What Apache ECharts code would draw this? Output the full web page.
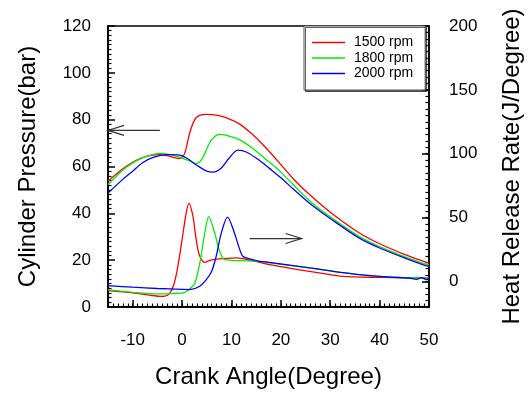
<!DOCTYPE html>
<html>
<head>
<meta charset="utf-8">
<script src="https://cdn.jsdelivr.net/npm/echarts@6/dist/echarts.min.js"></script>
<style>
html,body{margin:0;padding:0;background:#fff;}
#chart{width:532px;height:394px;}
</style>
</head>
<body>
<div id="chart"></div>
<script>
// ---- data (crank angle in degrees, value) ----
const seriesNames = ['1500 rpm', '1800 rpm', '2000 rpm'];
const seriesColors = ['#ff0000', '#00ee00', '#0000ff'];

// Cylinder pressure (bar)
const pressure1500 = [[-15,53.7],[-12,59],[-10,61.8],[-8,63.8],[-6,64.9],[-4.5,65.1],[-3,64.6],[-1.5,63.8],[-0.5,63.4],[0.5,65.5],[1.5,74],[2.5,79.8],[3.5,81.8],[5,82.3],[7,81.9],[9,80.8],[11.6,78.2],[14,74.2],[15.7,70.8],[17.7,66.3],[20,60.8],[22.5,54.8],[25.8,48],[30,40.5],[35.9,31.6],[40,27],[45,22.5],[49.3,19.2],[50,18.8]];
const pressure1800 = [[-15,52.3],[-12,58.5],[-10,61.5],[-8,63.8],[-6,65.1],[-4.5,65.6],[-3,65.3],[-1,64.3],[1,62.8],[3,61.3],[4,63],[5,67.5],[6,71.5],[7.6,73.7],[9,73.3],[11.6,71.5],[14,68.2],[15.7,65.3],[17.7,61.8],[20,57.6],[22.5,52.3],[25.8,45.4],[30,38.5],[35.9,30.1],[40,25.8],[45,21.5],[49.3,18.3],[50,18]];
const pressure2000 = [[-15,48.7],[-12,54.5],[-10,58],[-8,61.6],[-6,63.8],[-3,65.1],[-0.5,64.9],[1,63.5],[3,60.5],[5,58],[6.3,57.6],[8,59.5],[9.5,63.5],[11.3,67],[13,66.2],[15.7,62.6],[17.7,59.2],[20,55.2],[22.5,50.4],[25.8,44.3],[30,37.8],[35.9,29.4],[40,25.2],[45,21],[49.3,17.7],[50,17.4]];

// Heat release rate (J/Degree)
const heat1500 = [[-15,-7.2],[-10,-9],[-6,-11],[-4.2,-11.7],[-2.8,-10.4],[-1.8,-4],[-1.1,6.7],[-0.5,20],[0.1,35.4],[0.9,55],[1.4,61.1],[2.2,51.1],[2.7,37],[3.2,25],[3.8,18],[4.6,15],[5.5,16.3],[6.3,17.1],[11,18.4],[14,16.5],[17.7,13.2],[25.8,7.9],[32.5,4],[40,3.2],[45,3],[49.3,2.7],[50,2.7]];
const heat1800 = [[-15,-6.4],[-10,-8.5],[-5,-9.8],[0.2,-9],[1.5,-6],[2.6,-1.2],[3.6,14.5],[4.6,38],[5.4,50.7],[6.6,38],[7.6,23.7],[8.6,17.1],[11.6,16.3],[15.7,15.8],[17.7,14.5],[25.8,10.6],[35.9,5.3],[42,3.5],[45.9,2.7],[48,3.2],[49,2.2],[50,2.7]];
const heat2000 = [[-15,-3.3],[-10,-4.5],[-5,-5.5],[0,-6.2],[1.55,-6.4],[3.5,-4],[4.9,1.4],[6,8],[6.9,19.7],[7.95,38],[9.2,50.4],[10.6,38],[11.5,27],[12.3,19.7],[13.7,17.7],[15.7,15.8],[17.7,15],[25.8,10.6],[35.9,5.3],[42,3.4],[45.9,2.7],[47.5,1.6],[48.5,3],[49.5,1.5],[50,2.4]];

// tick values
const xTickValues = [-10, 0, 10, 20, 30, 40, 50];
const rightTickValues = [0, 50, 100, 150, 200];

// annotation arrows: [fromX, fromY, toX, toY, yAxisIndex] (tip at "to")
const arrowLeft = [-4.5, 75.4, -15, 75.4, 0];
const arrowRight = [13.7, 33.6, 24.2, 33.6, 1];

const chart = echarts.init(document.getElementById('chart'), null, {renderer: 'canvas'});
const font = 'Liberation Sans, Arial, sans-serif';

const pressureSets = [pressure1500, pressure1800, pressure2000];
const heatSets = [heat1500, heat1800, heat2000];
const series = [];
for (let i = 0; i < 3; i++) {
  const common = {
    type: 'line', name: seriesNames[i], symbol: 'none', showSymbol: false,
    smooth: 0.3, xAxisIndex: 0,
    lineStyle: {color: seriesColors[i], width: 1.3},
    itemStyle: {color: seriesColors[i]},
    emphasis: {disabled: true}, animation: false
  };
  series.push(Object.assign({}, common, {yAxisIndex: 0, data: pressureSets[i]}));
  series.push(Object.assign({}, common, {yAxisIndex: 1, data: heatSets[i]}));
}

const option = {
  animation: false,
  backgroundColor: '#fff',
  textStyle: {fontFamily: font},
  grid: {left: 108, right: 102, top: 26, bottom: 87, show: true, borderColor: '#000', borderWidth: 1.5, backgroundColor: 'transparent'},
  legend: {
    data: seriesNames, orient: 'vertical', left: 304, top: 26,
    padding: [9, 12, 9, 8], itemGap: 0.5, itemWidth: 33, itemHeight: 1.5, icon: 'rect',
    backgroundColor: '#fff', borderColor: '#555', borderWidth: 1,
    shadowColor: 'rgba(0,0,0,0.6)', shadowBlur: 0, shadowOffsetX: 1.5, shadowOffsetY: 1.5,
    textStyle: {fontFamily: font, fontSize: 14, color: '#000', lineHeight: 15, padding: [0, 0, 0, 4]},
    selectedMode: false
  },
  xAxis: [
    {
      type: 'value', min: -15, max: 50, position: 'bottom',
      name: 'Crank Angle(Degree)', nameLocation: 'middle', nameGap: 58,
      nameTextStyle: {fontFamily: font, fontSize: 24, color: '#000'},
      axisLine: {show: true, onZero: false, lineStyle: {color: '#000', width: 2}},
      axisTick: {show: true, inside: true, length: 7, customValues: xTickValues, lineStyle: {color: '#000', width: 1.5}},
      axisLabel: {show: true, customValues: xTickValues, margin: 25, fontFamily: font, fontSize: 17, color: '#000'},
      splitLine: {show: false}
    },
    {
      type: 'value', min: -15, max: 50, interval: 1, position: 'bottom',
      axisLine: {show: false, onZero: false},
      axisTick: {show: true, inside: true, length: 3.5, lineStyle: {color: '#000', width: 1.2}},
      axisLabel: {show: false}, splitLine: {show: false}
    }
  ],
  yAxis: [
    {
      type: 'value', min: 0, max: 120, interval: 20, position: 'left',
      name: 'Cylinder Pressure(bar)', nameLocation: 'middle', nameGap: 68, nameRotate: 90,
      nameTextStyle: {fontFamily: font, fontSize: 24, color: '#000'},
      axisLine: {show: true, onZero: false, lineStyle: {color: '#000', width: 2}},
      axisTick: {show: true, inside: true, length: 7, lineStyle: {color: '#000', width: 1.5}},
      minorTick: {show: true, splitNumber: 10, length: 3.5, lineStyle: {color: '#000', width: 1.2}},
      axisLabel: {margin: 17, fontFamily: font, fontSize: 17, color: '#000'},
      splitLine: {show: false}, minorSplitLine: {show: false}
    },
    {
      type: 'value', min: -20, max: 200, position: 'right',
      name: 'Heat Release Rate(J/Degree)', nameLocation: 'middle', nameGap: 71, nameRotate: 90,
      nameTextStyle: {fontFamily: font, fontSize: 24, color: '#000'},
      axisLine: {show: true, onZero: false, lineStyle: {color: '#000', width: 1.5}},
      axisTick: {show: true, inside: true, length: 7, customValues: rightTickValues, lineStyle: {color: '#000', width: 1.5}},
      axisLabel: {show: true, customValues: rightTickValues, margin: 20, fontFamily: font, fontSize: 17, color: '#000'},
      splitLine: {show: false}
    },
    {
      type: 'value', min: -20, max: 200, interval: 5, position: 'right',
      axisLine: {show: false, onZero: false},
      axisTick: {show: true, inside: true, length: 3.5, lineStyle: {color: '#000', width: 1.2}},
      axisLabel: {show: false}, splitLine: {show: false}
    }
  ],
  series: series
};
chart.setOption(option);

function arrowGraphic(a) {
  const from = chart.convertToPixel({xAxisIndex: 0, yAxisIndex: a[4]}, [a[0], a[1]]);
  const tip = chart.convertToPixel({xAxisIndex: 0, yAxisIndex: a[4]}, [a[2], a[3]]);
  const dir = Math.sign(from[0] - tip[0]);
  const armX = tip[0] + dir * 16;
  const style = {stroke: '#333', lineWidth: 1.2, fill: null};
  return [
    {type: 'polyline', shape: {points: [from, tip]}, style: style, z: 100},
    {type: 'polyline', shape: {points: [[armX, tip[1] - 5], tip, [armX, tip[1] + 5]]}, style: style, z: 100}
  ];
}
chart.setOption({graphic: arrowGraphic(arrowLeft).concat(arrowGraphic(arrowRight))});
</script>
</body>
</html>
